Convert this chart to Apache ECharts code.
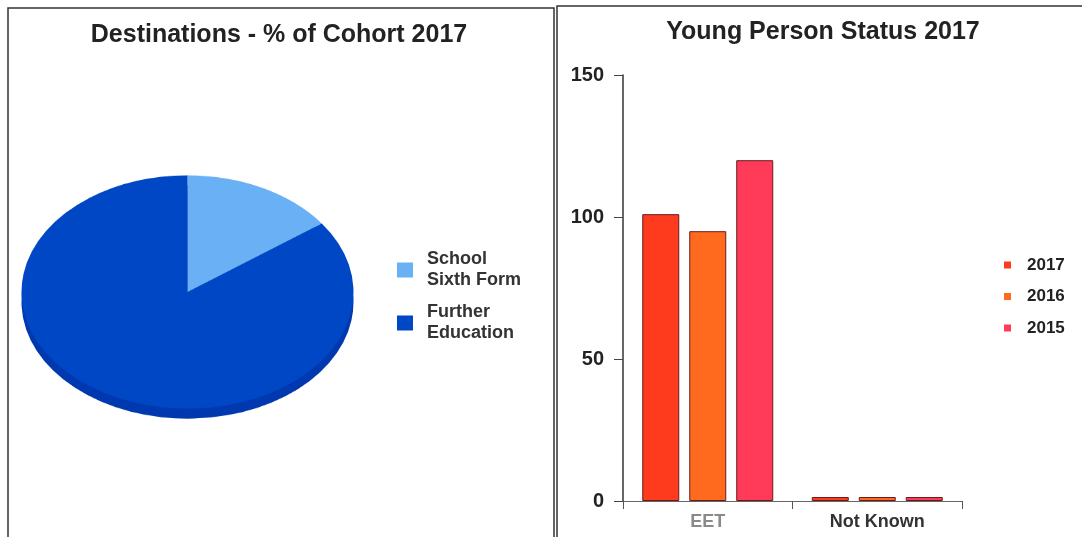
<!DOCTYPE html>
<html>
<head>
<meta charset="utf-8">
<script src="https://cdn.jsdelivr.net/npm/echarts@6/dist/echarts.min.js"></script>
<style>
html,body{margin:0;padding:0;background:#fff;width:1082px;height:537px;overflow:hidden;}
#main{position:absolute;left:0;top:0;width:1082px;height:537px;}
#pie{position:absolute;left:21px;top:175px;width:333px;height:350px;transform-origin:0 0;transform:scaleY(0.7027);z-index:2;}
</style>
</head>
<body>
<div id="main"></div>
<div id="pie"></div>
<script>
// ---- data ----
const pieTitle = 'Destinations - % of Cohort 2017';
const pieCategories = ['School\nSixth Form', 'Further\nEducation'];
const pieValues = [15, 85];
const barTitle = 'Young Person Status 2017';
const barCategories = ['EET', 'Not Known'];
const seriesNames = ['2017', '2016', '2015'];
const values2017 = [101, 1.4];
const values2016 = [95, 1.4];
const values2015 = [120, 1.4];
const yMin = 0, yMax = 150, yStep = 50;

// ---- styles ----
const FONT = "'Liberation Sans', Arial, sans-serif";
const pieColors = ['#69b1f4', '#0047c6'];
const pieDepthColors = ['#4a8fd8', '#0038b0'];
const barColors = ['#ff3b1e', '#ff6a1e', '#ff3b59'];
const barValues = [values2017, values2016, values2015];

const pieData = pieCategories.map((n, i) => ({ name: n, value: pieValues[i], itemStyle: { color: pieColors[i] } }));
const pieDepthData = pieCategories.map((n, i) => ({ name: n, value: pieValues[i], itemStyle: { color: pieDepthColors[i] } }));

const main = echarts.init(document.getElementById('main'));
main.setOption({
  animation: false,
  backgroundColor: '#fff',
  graphic: [
    { type: 'rect', shape: { x: 8, y: 8, width: 546, height: 600 }, style: { fill: 'none', stroke: '#333', lineWidth: 1.5 }, silent: true },
    { type: 'rect', shape: { x: 557, y: 6, width: 600, height: 600 }, style: { fill: 'none', stroke: '#333', lineWidth: 1.5 }, silent: true }
  ],
  title: [
    { text: pieTitle, left: 279, top: 23, textAlign: 'center', padding: 0,
      textStyle: { fontFamily: FONT, fontSize: 25, fontWeight: 'bold', color: '#222' } },
    { text: barTitle, left: 823, top: 20, textAlign: 'center', padding: 0,
      textStyle: { fontFamily: FONT, fontSize: 25, fontWeight: 'bold', color: '#222' } }
  ],
  legend: [
    { data: pieCategories, orient: 'vertical', left: 397, top: 249, padding: 0,
      itemWidth: 16, itemHeight: 15, itemGap: 11, icon: 'rect', selectedMode: false,
      itemStyle: { borderWidth: 0 },
      textStyle: { fontFamily: FONT, fontSize: 18, fontWeight: 'bold', color: '#333', lineHeight: 21, padding: [0, 0, 0, 9] } },
    { data: seriesNames, orient: 'vertical', left: 1004, top: 256, padding: 0,
      itemWidth: 7, itemHeight: 7, itemGap: 13.5, icon: 'rect', selectedMode: false,
      itemStyle: { borderWidth: 0 },
      textStyle: { fontFamily: FONT, fontSize: 17, fontWeight: 'bold', color: '#222', lineHeight: 18, padding: [0, 0, 0, 11] } }
  ],
  grid: { left: 623, top: 75, width: 339, height: 426, containLabel: false },
  xAxis: {
    type: 'category',
    data: barCategories.map((c, i) => ({ value: c, textStyle: { color: i === 0 ? '#8a8a8a' : '#333' } })),
    axisLine: { lineStyle: { color: '#666', width: 1.2 } },
    axisTick: { show: true, alignWithLabel: false, length: 8, lineStyle: { color: '#555' } },
    axisLabel: { fontFamily: FONT, fontSize: 18, fontWeight: 'bold', margin: 12 },
    splitLine: { show: false }
  },
  yAxis: {
    type: 'value', min: yMin, max: yMax, interval: yStep,
    axisLine: { show: true, lineStyle: { color: '#333', width: 1.5 } },
    axisTick: { show: true, length: 9, lineStyle: { color: '#444' } },
    axisLabel: { fontFamily: FONT, fontSize: 20, fontWeight: 'bold', color: '#222', margin: 19 },
    splitLine: { show: false }
  },
  series: [
    { type: 'pie', name: 'legendProxy', center: [187, 292], radius: [0, 0], data: pieData,
      label: { show: false }, labelLine: { show: false }, silent: true, z: 0 }
  ].concat(seriesNames.map((n, i) => ({
    type: 'bar', name: n, data: barValues[i], barWidth: 37, barGap: '27%',
    itemStyle: { color: barColors[i], borderColor: '#6a1a1a', borderWidth: 1 },
    emphasis: { disabled: true }
  })))
});

const pie = echarts.init(document.getElementById('pie'));
pie.setOption({
  animation: false,
  series: [
    { type: 'pie', center: [166.5, 180.7], radius: 166, startAngle: 90, data: pieDepthData,
      label: { show: false }, labelLine: { show: false }, silent: true, z: 1 },
    { type: 'pie', center: [166.5, 166.5], radius: 166, startAngle: 90, data: pieData,
      label: { show: false }, labelLine: { show: false }, silent: true, z: 2 }
  ]
});
</script>
</body>
</html>
